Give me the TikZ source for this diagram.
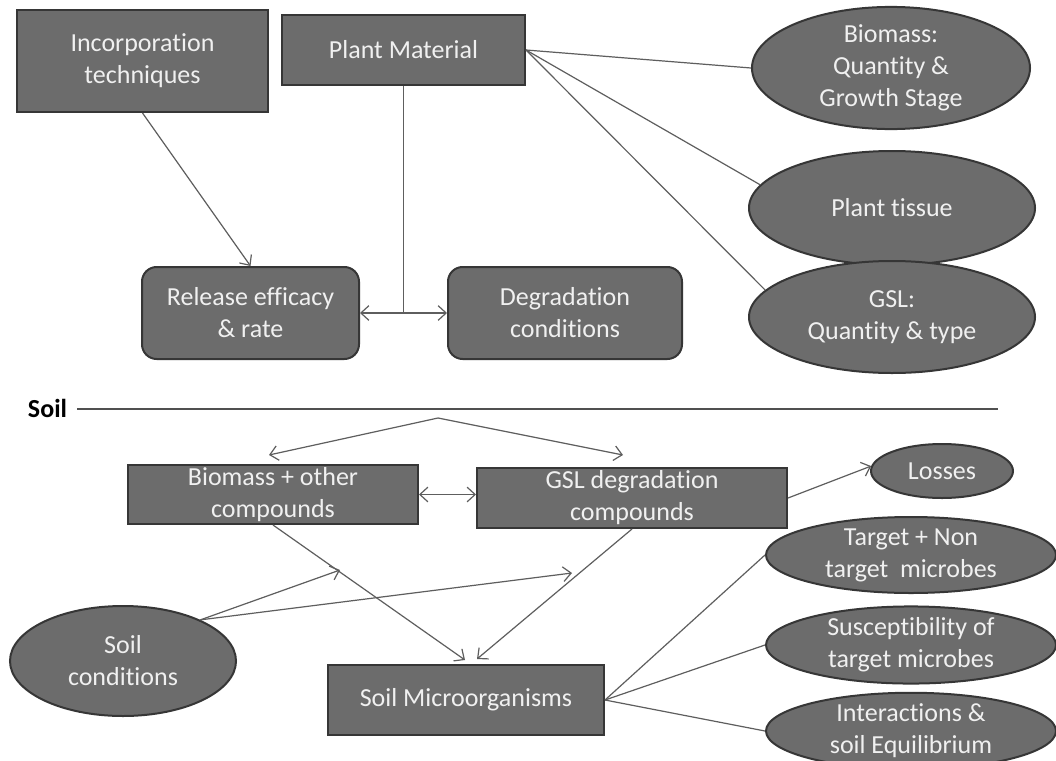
\documentclass[tikz,border=0pt]{standalone}
\usepackage{fontspec}
\setmainfont{Carlito}[Ligatures=NoCommon]
\usetikzlibrary{shapes.geometric,arrows.meta,calc}
\definecolor{boxfill}{HTML}{6C6C6C}
\definecolor{boxline}{HTML}{363636}
\definecolor{txtcol}{HTML}{F0F0F0}
\definecolor{conncol}{HTML}{5E5E5E}
\begin{document}
\begin{tikzpicture}[x=0.75pt,y=-0.75pt,
  lbl/.style={text=txtcol,font=\fontsize{19.5pt}{24pt}\selectfont,align=center,inner sep=0pt},
  box/.style={lbl,draw=boxline,fill=boxfill,line width=1.5pt,rectangle},
  rbox/.style={box,rounded corners=11pt},
  oval/.style={lbl,draw=boxline,fill=boxfill,line width=1.5pt,ellipse},
  link/.style={draw=conncol,line width=0.9pt},
  arr/.style={link,-{Straight Barb[length=6pt,width=11pt]}},
  darr/.style={link,{Straight Barb[length=6pt,width=11pt]}-{Straight Barb[length=6pt,width=11pt]}}]
\clip (0,0) rectangle (1056,760);
\fill[white] (0,0) rectangle (1056,760);
% upper part
\node[box,minimum width=251*0.75pt,minimum height=102*0.75pt] (inc) at (142.5,61) {Incorporation\\techniques};
\node[box,minimum width=243*0.75pt,minimum height=70*0.75pt] (pm) at (403.5,50) {Plant Material};
\node[rbox,minimum width=217*0.75pt,minimum height=92*0.75pt] (rel) at (250.5,313) {Release efficacy\\\& rate};
\node[rbox,minimum width=234*0.75pt,minimum height=92*0.75pt] (deg) at (565,313) {Degradation\\conditions};
\node[oval,minimum width=278*0.75pt,minimum height=106*0.75pt] (bio) at (891,68) {Biomass:\\Quantity \&\\Growth Stage};
\node[oval,minimum width=286*0.75pt,minimum height=114*0.75pt] (tis) at (892,208) {Plant tissue};
\node[oval,minimum width=286*0.75pt,minimum height=112*0.75pt] (gsl) at (892,317) {GSL:\\Quantity \& type};
% soil divider
\node[text=black,font=\fontsize{19.5pt}{24pt}\selectfont\bfseries,inner sep=0pt,anchor=base] (soil) at (47.5,417) {Soil};
\coordinate (soilend) at (998,409);
\draw[draw=conncol!85!black,line width=1.1pt] (soil.east |- soilend) ++(10,0) coordinate (soilstart) -- (soilend);
% lower part
\node[box,minimum width=290*0.75pt,minimum height=59*0.75pt] (bio2) at (273,494.5) {Biomass + other\\compounds};
\node[box,minimum width=310*0.75pt,minimum height=60*0.75pt] (gsld) at (632,498) {GSL degradation\\compounds};
\node[oval,minimum width=142*0.75pt,minimum height=54*0.75pt] (loss) at (942,471) {Losses};
\node[oval,minimum width=290*0.75pt,minimum height=76*0.75pt] (tgt) at (911,555) {Target + Non\\target~~microbes};
\node[oval,minimum width=290*0.75pt,minimum height=76*0.75pt] (sus) at (911,645) {Susceptibility of\\target microbes};
\node[oval,minimum width=290*0.75pt,minimum height=76*0.75pt] (inter) at (911,731) {Interactions \&\\soil Equilibrium};
\node[oval,minimum width=226*0.75pt,minimum height=110*0.75pt] (soilc) at (123,661) {Soil\\conditions};
\node[box,minimum width=276*0.75pt,minimum height=70*0.75pt] (sm) at (466,700) {Soil Microorganisms};
% upper connectors
\draw[arr] (inc.south) -- (rel.north);
\draw[link] (pm.south) -- (pm.south |- rel.east) coordinate (jn);
\draw[arr] (jn) -- (rel.east);
\draw[arr] (jn) -- (deg.west);
\draw[link] (pm.east) -- (bio.west);
\draw[link] (pm.east) -- (tis.170);
\draw[link] (pm.east) -- (gsl.168);
% lower connectors
\coordinate (apex) at (438,418);
\coordinate (tipL) at (269,455);
\coordinate (tipR) at (623,455);
\draw[arr] (apex) -- (tipL);
\draw[arr] (apex) -- (tipR);
\draw[darr] (bio2.east) -- (bio2.east -| gsld.west);
\draw[arr] (gsld.east) -- (loss.176);
\coordinate (smA) at ($(sm.north)+(-1,-4)$);
\coordinate (smB) at ($(sm.north)+(11,-5)$);
\draw[arr] (bio2.south) -- (smA);
\draw[arr] (gsld.south) -- (smB);
\coordinate (scA) at (340,570);
\coordinate (scB) at (572,573);
\draw[arr] (soilc.28) -- (scA);
\draw[arr] (soilc.28) -- (scB);
\draw[link] (sm.east) -- (tgt.west);
\draw[link] (sm.east) -- (sus.west);
\draw[link] (sm.east) -- (inter.west);
\end{tikzpicture}
\end{document}
